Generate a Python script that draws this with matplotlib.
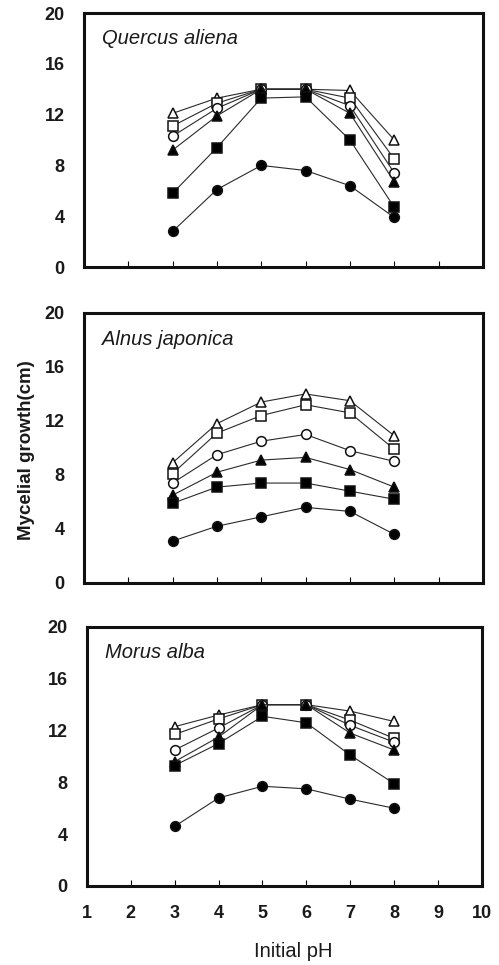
import matplotlib
matplotlib.use('Agg')
import matplotlib.pyplot as plt

plt.rcParams['font.family'] = ['Liberation Sans', 'DejaVu Sans']

ph = [3, 4, 5, 6, 7, 8]

# series: open triangle, open square, open circle, filled triangle, filled square, filled circle
quercus = {
    'open_tri': [12.1, 13.3, 14.0, 14.0, 13.9, 10.0],
    'open_sq': [11.1, 12.9, 14.0, 14.0, 13.3, 8.5],
    'open_circ': [10.3, 12.5, 14.0, 14.0, 12.7, 7.4],
    'fill_tri': [9.2, 11.9, 14.0, 14.0, 12.1, 6.7],
    'fill_sq': [5.8, 9.4, 13.3, 13.4, 10.0, 4.7],
    'fill_circ': [2.8, 6.1, 8.0, 7.6, 6.4, 3.9],
}
alnus = {
    'open_tri': [8.9, 11.8, 13.4, 14.0, 13.5, 10.9],
    'open_sq': [8.1, 11.1, 12.4, 13.2, 12.6, 9.9],
    'open_circ': [7.4, 9.5, 10.5, 11.0, 9.8, 9.0],
    'fill_tri': [6.5, 8.2, 9.1, 9.3, 8.4, 7.1],
    'fill_sq': [5.9, 7.1, 7.4, 7.4, 6.8, 6.2],
    'fill_circ': [3.1, 4.2, 4.9, 5.6, 5.3, 3.6],
}
morus = {
    'open_tri': [12.3, 13.2, 14.0, 14.0, 13.5, 12.7],
    'open_sq': [11.7, 12.9, 14.0, 14.0, 12.8, 11.4],
    'open_circ': [10.5, 12.2, 14.0, 14.0, 12.4, 11.1],
    'fill_tri': [9.6, 11.5, 14.0, 14.0, 11.8, 10.5],
    'fill_sq': [9.3, 11.0, 13.1, 12.6, 10.1, 7.9],
    'fill_circ': [4.6, 6.8, 7.7, 7.5, 6.7, 6.0],
}
species = ['Quercus aliena', 'Alnus japonica', 'Morus alba']
panels = [quercus, alnus, morus]

yticks = [0, 4, 8, 12, 16, 20]
xticks = [1, 2, 3, 4, 5, 6, 7, 8, 9, 10]

# marker, face colour, size -- open ones drawn first so the filled ones sit on top
styles = {
    'open_tri': ('^', 'white', 7.5),
    'open_sq': ('s', 'white', 7),
    'open_circ': ('o', 'white', 7),
    'fill_tri': ('^', 'black', 7.5),
    'fill_sq': ('s', 'black', 7.5),
    'fill_circ': ('o', 'black', 7),
}

fig = plt.figure(figsize=(4.99, 9.65), dpi=100)
# axes boxes [left, bottom, width, height]
boxes = [[0.168, 0.7233, 0.800, 0.2632],
         [0.168, 0.3959, 0.800, 0.2798],
         [0.174, 0.0819, 0.792, 0.2684]]

for i, (data, name) in enumerate(zip(panels, species)):
    ax = fig.add_axes(boxes[i])
    for key in ['open_tri', 'open_sq', 'open_circ', 'fill_tri', 'fill_sq', 'fill_circ']:
        mk, fc, ms = styles[key]
        ax.plot(ph, data[key], color='#2a2a2a', lw=0.8, marker=mk, markersize=ms,
                markerfacecolor=fc, markeredgecolor='#111111', markeredgewidth=1.1)
    ax.set_xlim(1, 10)
    ax.set_ylim(0, 20)
    ax.set_yticks(yticks)
    ax.set_xticks(xticks)
    ax.tick_params(axis='y', length=0, pad=14, labelsize=13)
    ax.tick_params(axis='x', direction='in', length=4, width=0.8, pad=14, labelsize=13)
    for lab in ax.get_xticklabels() + ax.get_yticklabels():
        lab.set_fontweight('bold')
        lab.set_color('#1a1a1a')
    if i < 2:
        ax.tick_params(axis='x', labelbottom=False)
    for s in ax.spines.values():
        s.set_linewidth(2.2)
        s.set_color('#111111')
    ax.text(0.045, 0.9, name, transform=ax.transAxes, fontsize=14.5,
            fontstyle='italic', ha='left', va='center', color='#1a1a1a')

fig.text(0.054, 0.534, 'Mycelial growth(cm)', rotation=90, ha='center', va='center',
         fontsize=13.5, fontweight='bold', color='#1a1a1a')
fig.text(0.587, 0.0135, 'Initial pH', ha='center', va='center', fontsize=14.5,
         color='#1a1a1a')

fig.savefig('out.png', dpi=100)
